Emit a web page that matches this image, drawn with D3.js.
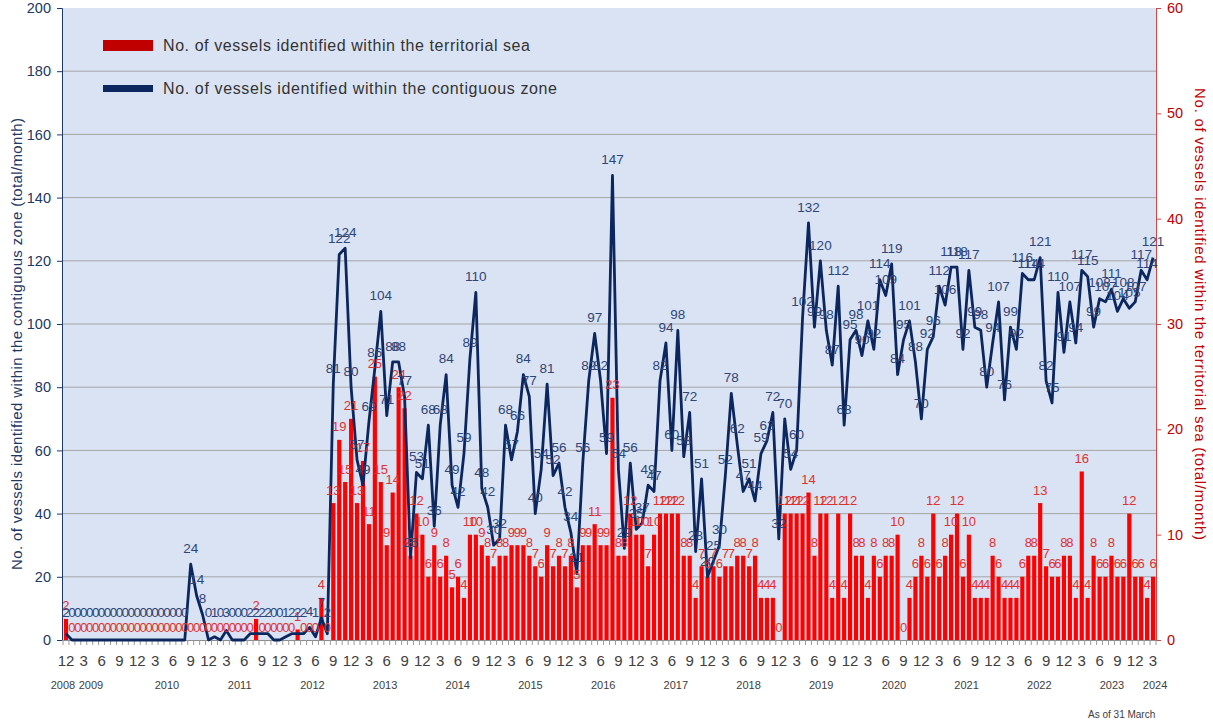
<!DOCTYPE html>
<meta charset="utf-8">
<style>
body{margin:0;background:#fff;}
text{font-family:"Liberation Sans",Arial,sans-serif;}
.grid line{stroke:#a6a6a6;stroke-width:1;}
.lblBlue{font-size:13.5px;fill:#2f4577;text-anchor:middle;}
.lblRed{font-size:13px;fill:#e0302e;text-anchor:middle;}
.month{font-size:15px;fill:#404040;text-anchor:middle;}
.year{font-size:11px;fill:#404040;text-anchor:middle;}
</style>
<body>
<svg id="chart" width="1213" height="726"></svg>
<script src="https://d3js.org/d3.v7.min.js"></script>
<script>
// first month shown = Dec 2008, last = Mar 2024
var startMonth = 12;

// contiguous zone, vessels per month
var contiguous = [2,
  0,0,0,0,0,0,0,0,0,0,0,0,0,0,0,0,0,0,0,0,
  24,14,8,0,
  1,0,3,0,0,0,2,2,2,2,0,0,
  1,2,2,2,4,1,7,2,
  81,122,124,80,57,49,69,86,104,71,88,88,
  77,26,53,51,68,36,68,84,49,42,59,89,
  110,48,42,30,32,68,57,66,84,77,40,54,
  81,52,56,42,34,21,56,82,97,82,59,147,
  54,29,56,35,37,49,47,82,94,60,98,58,
  72,28,51,20,25,30,52,78,62,47,51,44,
  59,63,72,32,70,54,60,102,132,99,120,98,
  87,112,68,95,98,90,101,92,114,109,119,84,
  95,101,88,70,92,96,112,106,118,118,92,117,
  99,98,80,94,107,76,99,92,116,114,114,121,
  82,75,110,91,107,94,117,115,99,108,107,111,
  104,108,105,107,117,114,121];

// territorial sea, vessels per month
var territorial = [2,
  0,0,0,0,0,0,0,0,0,0,0,0,0,0,0,0,0,0,0,0,0,0,0,0,0,0,0,0,0,0,0,
  2,0,0,0,0,0,0,1,0,0,0,4,0,
  13,19,15,21,13,17,11,25,15,9,14,24,
  22,8,12,10,6,9,6,8,5,6,4,10,
  10,9,8,7,8,8,9,9,9,8,7,6,
  9,7,8,7,8,5,9,9,11,9,9,23,
  8,8,12,10,10,7,10,12,12,12,12,8,
  8,4,7,6,7,6,7,7,8,8,7,8,
  4,4,4,0,12,12,12,12,14,8,12,12,
  4,12,4,12,8,8,4,8,6,8,8,10,
  0,4,6,8,6,12,6,8,10,12,6,10,
  4,4,4,8,6,4,4,4,6,8,8,13,
  7,6,6,8,8,4,16,4,8,6,6,8,
  6,6,12,6,6,4,6];

var leftTicks = [0,20,40,60,80,100,120,140,160,180,200];
var rightTicks = [0,10,20,30,40,50,60];
var years = [2008,2009,2010,2011,2012,2013,2014,2015,2016,2017,2018,2019,2020,2021,2022,2023,2024];

var legendLabels = ["No. of vessels identified within the territorial sea",
                    "No. of vessels identified within the contiguous zone"];
var leftTitle = "No. of vessels identified within the contiguous zone (total/month)";
var rightTitle = "No. of vessels identified within the territorial sea (total/month)";

var data = contiguous.map(function(c,i){ return {i:i, c:c, t:territorial[i]}; });

var svg = d3.select("#chart");
var plotL = 62, plotR = 1156, plotT = 8, plotB = 640;

var x = d3.scaleBand().domain(d3.range(data.length)).range([63,plotR]).paddingInner(0.3).paddingOuter(0.15);
var cx = function(i){ return x(i) + x.bandwidth()/2; };
var yL = d3.scaleLinear().domain([0,200]).range([plotB,plotT]);
var yR = d3.scaleLinear().domain([0,60]).range([plotB,plotT]);

svg.append("rect").attr("x",plotL).attr("y",plotT).attr("width",plotR-plotL).attr("height",plotB-plotT).attr("fill","#dae3f3");

var grid = svg.append("g").attr("class","grid");
grid.selectAll("line").data(leftTicks.filter(function(d){return d>0 && d<200;})).enter().append("line")
    .attr("x1",plotL).attr("x2",plotR).attr("y1",function(d){return yL(d);}).attr("y2",function(d){return yL(d);});

// left axis
var gL = svg.append("g").attr("transform","translate("+plotL+",0)")
    .call(d3.axisLeft(yL).tickValues(leftTicks).tickSize(5).tickPadding(6));
gL.select(".domain").attr("stroke","#1f3864");
gL.selectAll(".tick line").attr("stroke","#1f3864");
gL.selectAll("text").attr("font-size","14.5px").attr("fill","#203864").attr("font-family","Liberation Sans, Arial, sans-serif");

// right axis
var gR = svg.append("g").attr("transform","translate("+plotR+",0)")
    .call(d3.axisRight(yR).tickValues(rightTicks).tickSize(5).tickPadding(6));
gR.select(".domain").attr("stroke","#d04545");
gR.selectAll(".tick line").attr("stroke","#d04545");
gR.selectAll("text").attr("font-size","14.5px").attr("fill","#c00000").attr("font-family","Liberation Sans, Arial, sans-serif");

// bottom axis line and monthly ticks
svg.append("line").attr("x1",plotL).attr("x2",plotR).attr("y1",plotB+0.5).attr("y2",plotB+0.5).attr("stroke","#8c8c8c");
svg.append("g").selectAll("line").data(d3.range(data.length+1)).enter().append("line")
    .attr("x1",function(i){return i<data.length ? x(i)-x.step()*0.15 : plotR;})
    .attr("x2",function(i){return i<data.length ? x(i)-x.step()*0.15 : plotR;})
    .attr("y1",plotB).attr("y2",plotB+5).attr("stroke","#9a9a9a");

// bars
svg.append("g").selectAll("rect").data(data).enter().append("rect")
    .attr("x",function(d){return x(d.i);})
    .attr("width",x.bandwidth())
    .attr("y",function(d){return yR(d.t);})
    .attr("height",function(d){return plotB-yR(d.t);})
    .attr("fill","#ff0000");

// line
var line = d3.line().x(function(d){return cx(d.i);}).y(function(d){return yL(d.c);});
svg.append("path").datum(data).attr("d",line)
    .attr("fill","none").attr("stroke","#0c275f").attr("stroke-width",2.8).attr("stroke-linejoin","round");

// data labels
svg.append("g").selectAll("text").data(data).enter().append("text").attr("class","lblRed")
    .attr("x",function(d){return cx(d.i);})
    .attr("y",function(d){return yR(d.t)-13;})
    .attr("dy","0.35em")
    .text(function(d){return d.t;});

svg.append("g").selectAll("text").data(data).enter().append("text").attr("class","lblBlue")
    .attr("x",function(d){return cx(d.i);})
    .attr("y",function(d){return Math.min(yL(d.c)-16, 612);})
    .attr("dy","0.35em")
    .text(function(d){return d.c;});

// month labels every 3 months
svg.append("g").selectAll("text").data(data.filter(function(d){return d.i%3==0;})).enter().append("text")
    .attr("class","month")
    .attr("x",function(d){return cx(d.i);})
    .attr("y",666)
    .text(function(d){return ((startMonth-1+d.i)%12)+1;});

// year labels
var yearX = d3.scaleLinear().domain([2010,2023]).range([167,1112]);
svg.append("g").selectAll("text").data(years).enter().append("text")
    .attr("class","year")
    .attr("x",function(y){ return y==2008 ? cx(0)-3 : (y==2009 ? 91 : (y==2024 ? cx(data.length-1)+2 : yearX(y))); })
    .attr("y",689)
    .text(function(y){return y;});

svg.append("text").attr("x",1088).attr("y",718).attr("font-size","10px").attr("fill","#404040").text("As of 31 March");

// axis titles
svg.append("text").attr("transform","translate(22,344) rotate(-90)").attr("text-anchor","middle")
    .attr("font-size","15px").attr("fill","#1f3864")
    .attr("textLength",452).attr("lengthAdjust","spacing").text(leftTitle);
svg.append("text").attr("transform","translate(1195,314) rotate(90)").attr("text-anchor","middle")
    .attr("font-size","15px").attr("fill","#c00000")
    .attr("textLength",452).attr("lengthAdjust","spacing").text(rightTitle);

// legend
var lg = svg.append("g");
lg.append("rect").attr("x",103).attr("y",40).attr("width",50).attr("height",11).attr("fill","#c00000");
lg.append("rect").attr("x",103).attr("y",85).attr("width",50).attr("height",7).attr("fill","#0c275f");
lg.selectAll("text").data(legendLabels).enter().append("text")
    .attr("x",163).attr("y",function(d,k){return 51+k*43;})
    .attr("font-size","16px").attr("fill","#333")
    .attr("textLength",function(d,k){return k==0 ? 367 : 394;}).attr("lengthAdjust","spacing")
    .text(function(d){return d;});
</script>
</body>
</html>
